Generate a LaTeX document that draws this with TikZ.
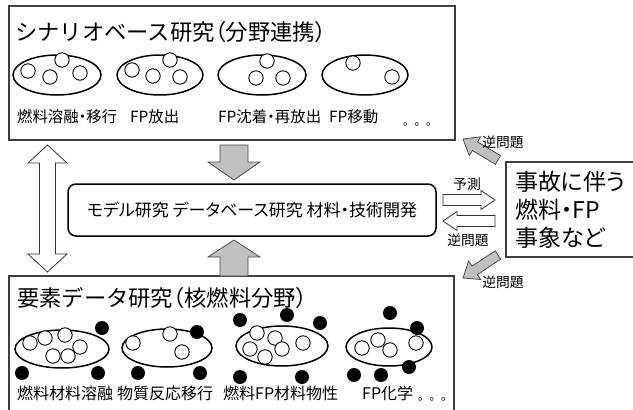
\documentclass[tikz,border=0pt]{standalone}
\usepackage{fontspec}
\newfontfamily\jp[RawFeature=+palt]{Noto Sans CJK JP}
\newfontfamily\jpfix{Noto Sans CJK JP}
\definecolor{arrowgray}{HTML}{C0C0C0}
\tikzset{
  frame/.style={draw=black!75, line width=1.2pt},
  grp/.style={draw=black, line width=1.5pt},
  sub/.style={draw=black, line width=0.9pt, fill=white},
  dot/.style={fill=black},
  garrow/.style={draw=black!70, line width=0.8pt, fill=arrowgray},
  warrow/.style={draw=black!80, line width=0.8pt, fill=white},
  txt/.style={inner sep=0pt, font=\jp},
  lab/.style={txt, anchor=west, font=\jp\fontsize{15.4}{17}\selectfont},
  blab/.style={txt, anchor=west, font=\jpfix\fontsize{16}{18}\selectfont},
  small/.style={txt, font=\jpfix\fontsize{13.8}{15}\selectfont},
  ttl/.style={txt, anchor=west, font=\jpfix\fontsize{22.3}{24}\selectfont},
}
\newcommand\pp[1]{{\jp #1}}
\begin{document}
\begin{tikzpicture}[x=1pt,y=-1pt]
\useasboundingbox (0,0) rectangle (633,410);
\fill[white] (0,0) rectangle (633,410);

% ---- top box
\draw[frame] (9,6) rectangle (455,140);
\node[ttl] (ttl1) at (15,32) {シナリオベース研究\pp{（}分野連携\pp{）}};
\draw[grp] (57,75) ellipse [x radius=44, y radius=20];
\draw[grp] (160,75) ellipse [x radius=43, y radius=20];
\draw[grp] (262,75) ellipse [x radius=44, y radius=20];
\draw[grp] (365,75) ellipse [x radius=43, y radius=20];
\foreach \p in {(28,71),(50,77),(62,60),(80,73),
                (132,70),(153,76),(170,60),(180,77),
                (267,61),(256,78),(283,78),
                (353,63),(392,77)}
  \draw[sub] \p circle [radius=7.2];
\node[lab] (l1) at (17,117) {燃料溶融・移行};
\node[lab] (l2) at (130,117) {FP放出};
\node[lab] (l3) at (218,117) {FP沈着・再放出};
\node[lab] (l4) at (329,117) {FP移動};
\node[txt, anchor=west, font=\jpfix\fontsize{11.5}{12}\selectfont] (l5) at (403,124) {。。。};

% ---- bottom box
\draw[frame] (9,412) -- (9,276) -- (454,276) -- (454,412);
\node[ttl] (ttl2) at (17,298) {要素データ研究\pp{（}核燃料分野\pp{）}};
\draw[grp] (62,349) ellipse [x radius=47, y radius=19];
\draw[grp] (167,348) ellipse [x radius=45, y radius=19];
\draw[grp] (282,346) ellipse [x radius=46, y radius=20];
\draw[grp] (389,347) ellipse [x radius=43, y radius=19];
\foreach \p in {(30,343),(45,338),(65,335),(80,347),(53,356),(68,356),
                (133,343),(170,334),(182,352),
                (257,333),(275,338),(303,343),(250,349),(265,357),(282,349),
                (362,348),(378,340),(390,350),(416,343)}
  \draw[sub] \p circle [radius=7.2];
\foreach \p in {(102,328),(22,373),(98,373),
                (197,332),(138,373),(200,373),
                (240,320),(287,315),(320,323),(240,377),(302,377),
                (390,313),(417,328),(354,375),(381,375),(409,367)}
  \fill[dot] \p circle [radius=7];
\node[blab] (b1) at (17,393) {燃料材料溶融};
\node[blab] (b2) at (117,393) {物質反応移行};
\node[blab] (b3) at (223,393) {燃料FP材料物性};
\node[blab] (b4) at (362,393) {FP化学};
\node[txt, anchor=west, font=\jpfix\fontsize{11.5}{12}\selectfont] (b5) at (418,399) {。。。};

% ---- left double arrow
\draw[warrow] (47.5,145) -- (67,163) -- (55.5,163) -- (55.5,254) -- (67,254) -- (47.5,272)
  -- (28,254) -- (39.5,254) -- (39.5,163) -- (28,163) -- cycle;

% ---- gray vertical arrows
\draw[garrow] (220,145) -- (248,145) -- (248,162) -- (260,162) -- (234,180) -- (208,162) -- (220,162) -- cycle;
\draw[garrow] (220,276) -- (248,276) -- (248,257) -- (260,257) -- (234,240) -- (208,257) -- (220,257) -- cycle;

% ---- middle box
\node[draw=black, line width=1.5pt, rounded corners=8pt, minimum width=368pt, minimum height=52pt,
      font=\jp\fontsize{17}{19}\selectfont] (mid) at (252,210) {モデル研究 データベース研究 材料・技術開発};

% ---- right box
\draw[frame] (506,162) rectangle (640,257);
\node[txt, anchor=west, font=\jp\fontsize{23}{25}\selectfont] (r1) at (515,182) {事故に伴う};
\node[txt, anchor=west, font=\jp\fontsize{23}{25}\selectfont] (r2) at (515,210) {燃料・FP};
\node[txt, anchor=west, font=\jp\fontsize{23}{25}\selectfont] (r3) at (515,238) {事象など};

% ---- white horizontal arrows
\draw[warrow] (443,194.5) -- (481,194.5) -- (481,190.5) -- (495,200) -- (481,209.5) -- (481,205.5) -- (443,205.5) -- cycle;
\draw[warrow] (495,215.5) -- (457,215.5) -- (457,211.5) -- (443,221) -- (457,230.5) -- (457,226.5) -- (495,226.5) -- cycle;
\node[small] (p1) at (467,184) {予測};
\node[small] (p2) at (468,240) {逆問題};

% ---- gray diagonal arrows
\draw[garrow] (463,139) -- (480.7,136.8) -- (477.6,141.9) -- (500.6,155.7) -- (495.4,164.3) -- (472.4,150.5) -- (469.3,155.6) -- cycle;
\draw[garrow] (463,278) -- (480.7,279.5) -- (477.4,274.5) -- (500.7,259.2) -- (495.3,250.8) -- (472.0,266.1) -- (468.7,261.1) -- cycle;
\node[small] (q1) at (503,142) {逆問題};
\node[small] (q2) at (503,282) {逆問題};
\end{tikzpicture}
\end{document}
